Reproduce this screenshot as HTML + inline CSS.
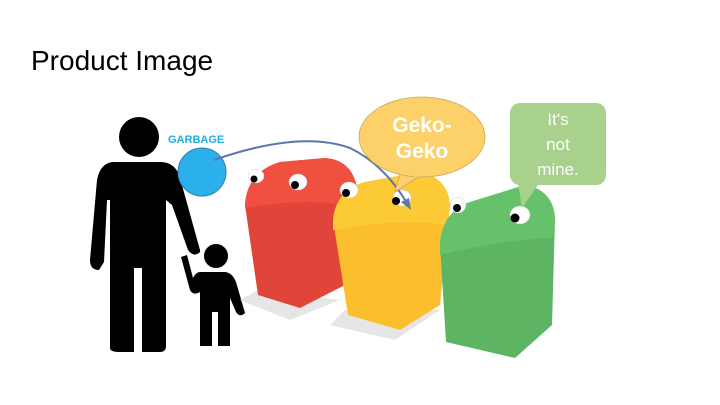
<!DOCTYPE html>
<html><head><style>
body{margin:0;background:#fff;}
svg{display:block}
</style></head><body>
<svg width="720" height="405" viewBox="0 0 720 405" xmlns="http://www.w3.org/2000/svg">
<text x="31" y="70" font-family="Liberation Sans, sans-serif" font-size="28" fill="#000">Product Image</text>
<!-- adult -->
<g fill="#000">
<circle cx="139" cy="137" r="20"/>
<path d="M112 162 Q100 164 97 180 L90 260 Q90 270 99 270 L104 262 L107 200 L110 200 L110 348 Q110 352 120 352 L134 352 L134 268 L142 268 L142 352 L160 352 Q166 352 166 346 L166 200 L172 205 L188 250 Q194 258 200 252 L200 250 L180 178 Q176 163 162 162 Z"/>
<!-- child -->
<circle cx="216" cy="256" r="12"/>
<path d="M200 272 Q196 272 193 278 L187 255 L181 257 L190 290 Q193 296 200 292 L200 346 L212 346 L212 312 L218 312 L218 346 L230 346 L230 298 L236 312 Q240 318 245 313 L236 282 Q232 272 224 272 Z"/>
</g>
<!-- shadows -->
<path d="M258 290 L240 300 L290 320 L340 300 Z" fill="#e6e6e6"/>
<path d="M345 310 L330 325 L395 340 L440 310 Z" fill="#e6e6e6"/>
<!-- red bin -->
<path d="M245 205 Q247 172 280 162 L325 158 Q352 160 357 188 L345 285 L300 308 L258 295 Z" fill="#e0453a"/>
<path d="M245 205 Q247 172 280 162 L325 158 Q352 160 357 188 L350 205 Q300 198 245 208Z" fill="#f0503f"/>
<!-- yellow bin -->
<path d="M333 220 Q336 190 365 182 L420 172 Q448 178 450 205 L440 305 L400 330 L348 315 Z" fill="#fbbf2d"/>
<path d="M333 220 Q336 190 365 182 L420 172 Q448 178 450 205 L446 225 Q395 218 333 230Z" fill="#fcca35"/>
<!-- green bin -->
<path d="M440 245 Q442 212 470 202 L525 185 Q553 190 555 218 L552 325 L515 358 L446 342 Z" fill="#5db462"/>
<path d="M440 245 Q442 212 470 202 L525 185 Q553 190 555 218 L553 238 Q500 240 440 255Z" fill="#66c26a"/>
<!-- eyes -->
<g fill="#fff" stroke="#ccc" stroke-width="0.5">
<ellipse cx="256" cy="176" rx="8" ry="7"/><ellipse cx="298" cy="182" rx="9" ry="8"/><ellipse cx="349" cy="190" rx="9" ry="8"/>
<ellipse cx="402" cy="198" rx="9" ry="8"/><ellipse cx="458" cy="205" rx="8" ry="8"/><ellipse cx="520" cy="215" rx="10" ry="9"/>
</g>
<g fill="#000">
<circle cx="254" cy="179" r="3.5"/><circle cx="295" cy="185" r="4"/><circle cx="346" cy="193" r="4"/>
<circle cx="396" cy="201" r="4"/><circle cx="457" cy="208" r="4"/><circle cx="515" cy="218" r="4.5"/>
</g>
<!-- blue ball -->
<circle cx="202" cy="172" r="24" fill="#2bb0ec" stroke="#3080b0" stroke-width="1"/>
<text x="168" y="143" font-family="Liberation Sans, sans-serif" font-weight="bold" font-size="11" fill="#1aaee8">GARBAGE</text>
<!-- arrow -->
<path d="M214 160 Q300 130 350 148 Q385 165 408 205" fill="none" stroke="#5a78a8" stroke-width="2"/>
<path d="M411 210 L401 202 L409 198 Z" fill="#5a78a8"/>
<!-- yellow bubble -->
<path d="M400 174 L395 192 L420 176 Z" fill="#fdd16a" stroke="#c8a860" stroke-width="0.8"/>
<ellipse cx="422" cy="137" rx="63" ry="40" fill="#fdd16a" stroke="#c8a860" stroke-width="0.8"/>
<path d="M402 172 L418 176" stroke="#fdd16a" stroke-width="3"/>
<text x="422" y="132" text-anchor="middle" font-family="Liberation Sans, sans-serif" font-weight="bold" font-size="21" fill="#fff">Geko-</text>
<text x="422" y="158" text-anchor="middle" font-family="Liberation Sans, sans-serif" font-weight="bold" font-size="21" fill="#fff">Geko</text>
<!-- green bubble -->
<path d="M518 182 L522 208 L540 182 Z" fill="#a9d18e"/>
<rect x="510" y="103" width="96" height="82" rx="10" fill="#a9d18e"/>
<text x="558" y="125" text-anchor="middle" font-family="Liberation Sans, sans-serif" font-size="17" fill="#fff">It's</text>
<text x="558" y="150" text-anchor="middle" font-family="Liberation Sans, sans-serif" font-size="17" fill="#fff">not</text>
<text x="558" y="175" text-anchor="middle" font-family="Liberation Sans, sans-serif" font-size="17" fill="#fff">mine.</text>
</svg>
</body></html>
